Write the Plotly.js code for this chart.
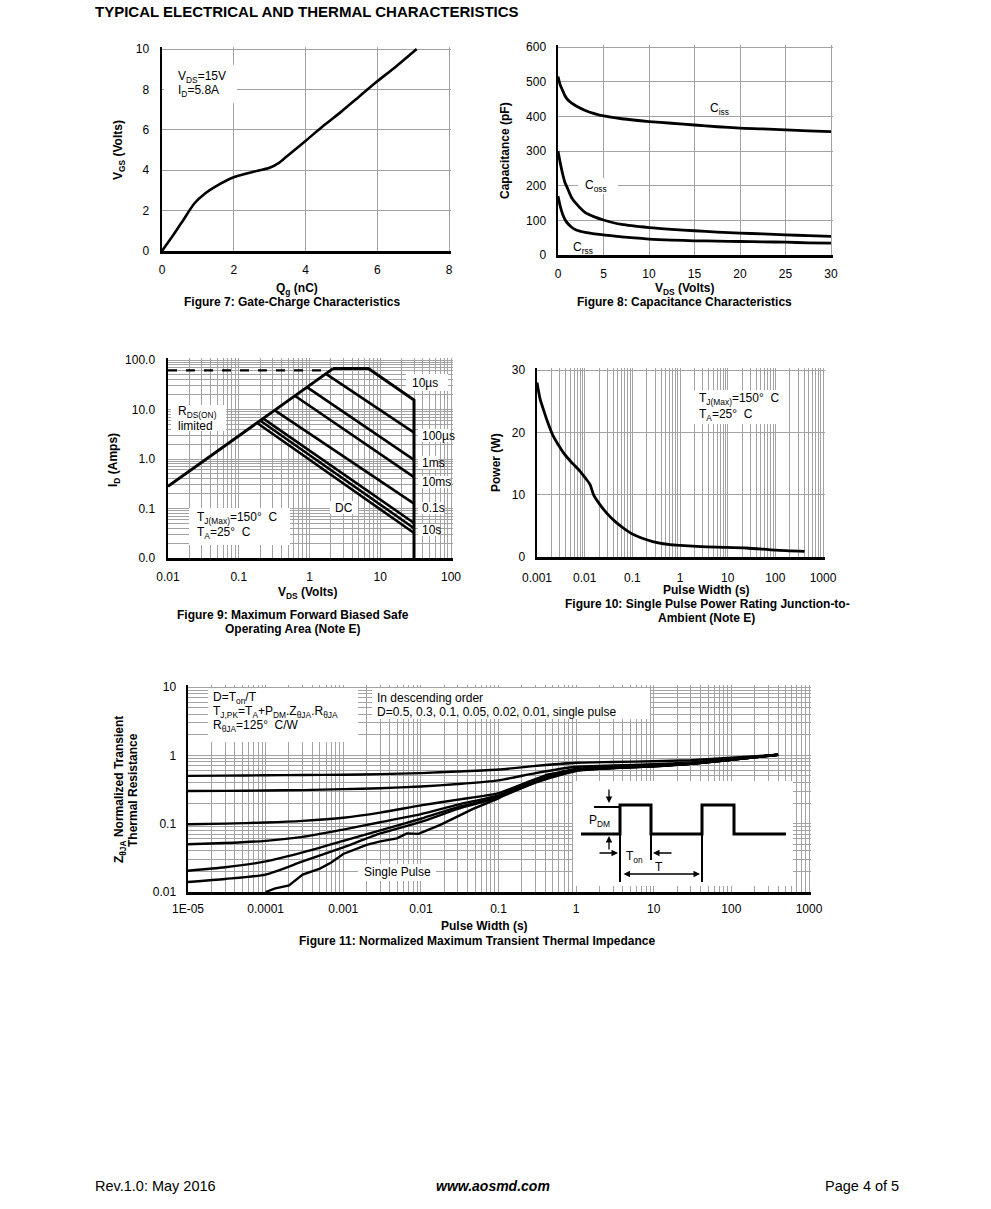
<!DOCTYPE html>
<html>
<head>
<meta charset="utf-8">
<script src="https://cdn.plot.ly/plotly-3.0.1.min.js"></script>
<style>html,body{margin:0;padding:0;background:#fff;}#chart{width:991px;height:1209px;}</style>
</head>
<body>
<div id="chart"></div>
<script>
// ---------- Figure 7: Gate charge ----------
const qg  = [0, 0.3, 0.6, 0.9, 1.2, 1.5, 2.0, 2.5, 3.0, 3.25, 3.5, 4.0, 4.5, 5.0, 5.5, 6.0, 6.5, 7.1];
const vgs = [0, 0.75, 1.55, 2.35, 2.85, 3.2, 3.65, 3.9, 4.12, 4.35, 4.72, 5.45, 6.2, 6.9, 7.65, 8.4, 9.1, 10];

// ---------- Figure 8: Capacitance ----------
const vds8 = [0, 0.25, 0.5, 0.75, 1, 1.5, 2, 3, 4, 5, 7, 10, 12.5, 15, 17.5, 20, 22.5, 25, 27.5, 30];
const ciss = [515, 490, 475, 460, 450, 438, 430, 417, 408, 401, 393, 385, 380, 375, 370, 366, 364, 361, 358, 356];
const coss = [300, 265, 235, 210, 195, 165, 148, 122, 110, 101, 88, 79, 74, 70, 66, 63, 61, 58, 56, 54];
const crss = [170, 140, 118, 103, 93, 80, 72, 65, 61, 58, 52, 46, 43, 41, 40, 39, 38, 37, 35, 34];

// ---------- Figure 9: SOA ----------
const rdsV = [0.01, 2.15];     const rdsI = [0.28, 67];
const pkV  = [0.01, 1.95];     const pkI  = [62, 62];
const v10us = [2.15, 6.8, 30, 30]; const i10us = [67, 67, 15.5, 0.01];
const v100us = [1.69, 30]; const i100us = [53, 3.4];
const v1ms   = [0.93, 30]; const i1ms   = [28, 0.96];
const v10ms  = [0.62, 30]; const i10ms  = [19, 0.43];
const v100ms = [0.32, 30]; const i100ms = [9.7, 0.125];
const v1s    = [0.22, 30]; const i1s    = [6.6, 0.051];
const v10s   = [0.20, 30]; const i10s   = [6.0, 0.040];
const vdc    = [0.18, 30]; const idc    = [5.4, 0.032];

// ---------- Figure 10: Single pulse power ----------
const tp10 = [0.001, 0.00115, 0.00137, 0.0017, 0.00222, 0.0028, 0.0036, 0.005, 0.0081, 0.0105, 0.013, 0.0153, 0.02, 0.029, 0.045, 0.065, 0.1, 0.2, 0.35, 0.62, 1, 2.2, 6, 24.7, 100, 410];
const pw10 = [28, 25.5, 23.6, 21.5, 19.3, 18.0, 16.7, 15.4, 13.7, 12.6, 11.6, 10.0, 8.6, 7.05, 5.6, 4.65, 3.7, 2.77, 2.25, 1.97, 1.85, 1.7, 1.58, 1.44, 1.1, 0.9];

// ---------- Figure 11: Transient thermal impedance ----------
const tz = [1e-5, 3e-5, 1e-4, 3e-4, 1e-3, 3e-3, 0.01, 0.03, 0.1, 0.3, 1, 3, 10, 30, 100, 400];
const zD05  = [0.50, 0.505, 0.51, 0.515, 0.52, 0.53, 0.55, 0.58, 0.62, 0.70, 0.78, 0.80, 0.82, 0.85, 0.92, 1.02];
const zD03  = [0.30, 0.302, 0.306, 0.31, 0.32, 0.33, 0.35, 0.38, 0.43, 0.55, 0.68, 0.71, 0.74, 0.79, 0.88, 1.02];
const zD01  = [0.098, 0.1, 0.104, 0.11, 0.122, 0.145, 0.185, 0.225, 0.28, 0.45, 0.63, 0.67, 0.71, 0.76, 0.87, 1.02];
const zD005 = [0.05, 0.052, 0.056, 0.064, 0.082, 0.105, 0.138, 0.19, 0.26, 0.42, 0.61, 0.66, 0.70, 0.75, 0.86, 1.02];
const zD002 = [0.0205, 0.023, 0.028, 0.038, 0.056, 0.08, 0.118, 0.175, 0.245, 0.41, 0.60, 0.65, 0.69, 0.75, 0.86, 1.02];
const zD001 = [0.014, 0.0155, 0.018, 0.028, 0.045, 0.072, 0.106, 0.165, 0.24, 0.40, 0.59, 0.65, 0.69, 0.75, 0.86, 1.02];
const spX = [1e-4, 1.3e-4, 2e-4, 3e-4, 5e-4, 7e-4, 1e-3, 1.5e-3, 2e-3, 3e-3, 4.9e-3, 6.6e-3, 9.3e-3, 0.0178, 0.047, 0.1, 0.155, 0.42, 1, 3, 10, 30, 100, 400];
const spY = [0.01, 0.0112, 0.0125, 0.018, 0.022, 0.027, 0.036, 0.043, 0.049, 0.055, 0.061, 0.072, 0.071, 0.096, 0.165, 0.235, 0.32, 0.52, 0.62, 0.65, 0.69, 0.75, 0.86, 1.02];

// ---------- Figure 11 inset (pulse diagram, inset units) ----------
const insetBoxX = [0, 220, 220, 0, 0];
const insetBoxY = [0, 0, 105, 105, 0];
const pulseX = [8, 47, 47, 78, 78, 129, 129, 161, 161, 213];
const pulseY = [52, 52, 81, 81, 52, 52, 81, 81, 52, 52];
const markX = [47, 47, null, 78, 78, null, 129, 129, null, 21, 47];
const markY = [52, 4, null, 52, 26, null, 52, 4, null, 79, 79];

// ---------- tick labels ----------
const soaXLabels = ['0.01', '0.1', '1', '10', '100'];
const soaYLabels = ['0.0', '0.1', '1.0', '10.0', '100.0'];
const pwrXLabels = ['0.001', '0.01', '0.1', '1', '10', '100', '1000'];
const zthXLabels = ['1E-05', '0.0001', '0.001', '0.01', '0.1', '1', '10', '100', '1000'];
const zthYLabels = ['0.01', '0.1', '1', '10'];

// ================= layout helpers =================
const W = 991, H = 1209;
const FONT = 'Liberation Sans, Arial, sans-serif';
const GRID = '#a3a3a3';
const X = p => p / W;
const Y = p => 1 - p / H;
const dx = (a, b) => [X(a), X(b)];
const dy = (a, b) => [Y(b), Y(a)];
// extend an axis by 2px past its last gridline so Plotly keeps that gridline
const ext = (lo, hi, px) => hi + (hi - lo) * 2 / px;

function logTicks(e0, e1, labels) {
  const vals = [], minor = [];
  for (let e = e0; e <= e1; e++) {
    vals.push(Math.pow(10, e));
    if (e < e1) for (let m = 2; m <= 9; m++) minor.push(m * Math.pow(10, e));
  }
  return {tickmode: 'array', tickvals: vals, ticktext: labels,
          minor: {tickmode: 'array', tickvals: minor, showgrid: true, gridcolor: GRID, gridwidth: 1, ticks: ''}};
}
function ax(extra) {
  return Object.assign({
    showline: true, linecolor: '#000', linewidth: 2.5,
    showgrid: true, gridcolor: GRID, gridwidth: 1,
    zeroline: false, ticks: '', fixedrange: true,
    tickfont: {family: FONT, size: 12, color: '#000'}
  }, extra);
}
const LW = {color: '#000', width: 2.6};
function tr(x, y, xa, ya, line) {
  return {x: x, y: y, xaxis: xa, yaxis: ya, type: 'scatter', mode: 'lines',
          line: line || LW, hoverinfo: 'skip', showlegend: false};
}
const SPL = w => ({color: '#000', width: w, shape: 'spline', smoothing: 0.6});
const anns = [], shapes = [];
function txt(x, y, text, o) {
  o = o || {};
  anns.push({xref: 'paper', yref: 'paper', x: X(x), y: Y(y), text: text, showarrow: false,
    xanchor: o.xa || 'center', yanchor: 'middle', textangle: o.angle || 0,
    font: {family: FONT, size: o.size || 12, color: '#000', weight: o.bold ? 'bold' : 'normal',
           style: o.italic ? 'italic' : 'normal'}});
}
function box(x0, y0, x1, y1) {
  shapes.push({type: 'rect', xref: 'paper', yref: 'paper', x0: X(x0), x1: X(x1), y0: Y(y1), y1: Y(y0),
    fillcolor: '#fff', line: {width: 0}, layer: 'above'});
}
function arrow(x, y, axv, ayv, both) {
  anns.push({xref: 'x6', yref: 'y6', axref: 'x6', ayref: 'y6', x: x, y: y, ax: axv, ay: ayv,
    text: '', showarrow: true, arrowhead: 2, arrowsize: 1, arrowwidth: 1.3, arrowcolor: '#000',
    standoff: 0, startstandoff: 0, arrowside: both ? 'end+start' : 'end', startarrowhead: 2});
}

// ================= traces =================
const data = [
  tr(qg, vgs, 'x', 'y', SPL(2.6)),
  tr(vds8, ciss, 'x2', 'y2', SPL(2.8)), tr(vds8, coss, 'x2', 'y2', SPL(2.8)), tr(vds8, crss, 'x2', 'y2', SPL(2.8)),
  tr(pkV, pkI, 'x3', 'y3', {color: '#000', width: 2.2, dash: 'dash'}),
  tr(rdsV, rdsI, 'x3', 'y3', {color: '#000', width: 3}),
  tr(v10us, i10us, 'x3', 'y3', {color: '#000', width: 3}),
  tr(v100us, i100us, 'x3', 'y3'), tr(v1ms, i1ms, 'x3', 'y3'), tr(v10ms, i10ms, 'x3', 'y3'),
  tr(v100ms, i100ms, 'x3', 'y3'), tr(v1s, i1s, 'x3', 'y3'), tr(v10s, i10s, 'x3', 'y3'), tr(vdc, idc, 'x3', 'y3'),
  tr(tp10, pw10, 'x4', 'y4', SPL(2.8)),
  tr(tz, zD05, 'x5', 'y5', SPL(2.4)),
  tr(tz, zD03, 'x5', 'y5', SPL(2.4)),
  tr(tz, zD01, 'x5', 'y5', SPL(2.4)),
  tr(tz, zD005, 'x5', 'y5', SPL(2.4)),
  tr(tz, zD002, 'x5', 'y5', SPL(2.4)),
  tr(tz, zD001, 'x5', 'y5', SPL(2.4)),
  tr(spX, spY, 'x5', 'y5', {color: '#000', width: 2.4}),
  {x: insetBoxX, y: insetBoxY, xaxis: 'x6', yaxis: 'y6', type: 'scatter', mode: 'lines', fill: 'toself',
   fillcolor: '#fff', line: {width: 0, color: '#fff'}, hoverinfo: 'skip', showlegend: false},
  tr(pulseX, pulseY, 'x6', 'y6', {color: '#000', width: 3}),
  tr(markX, markY, 'x6', 'y6', {color: '#000', width: 2})
];

// ================= text =================
txt(93, 12, 'TYPICAL ELECTRICAL AND THERMAL CHARACTERISTICS', {xa: 'left', bold: true, size: 15});
// Fig 7
box(164, 65, 237, 103);
txt(176, 77, 'V<sub>DS</sub>=15V', {xa: 'left'});
txt(176, 91, 'I<sub>D</sub>=5.8A', {xa: 'left'});
txt(297, 289, 'Q<sub>g</sub> (nC)', {bold: true});
txt(292, 302, 'Figure 7: Gate-Charge Characteristics', {bold: true});
txt(119, 150, 'V<sub>GS</sub> (Volts)', {bold: true, angle: -90});
// Fig 8
txt(708, 109, 'C<sub>iss</sub>', {xa: 'left'});
box(578, 178, 618, 194);
txt(583, 186, 'C<sub>oss</sub>', {xa: 'left'});
txt(571, 248, 'C<sub>rss</sub>', {xa: 'left'});
txt(684, 289, 'V<sub>DS</sub> (Volts)', {bold: true});
txt(684, 302, 'Figure 8: Capacitance Characteristics', {bold: true});
txt(505, 151, 'Capacitance (pF)', {bold: true, angle: -90});
// Fig 9
box(406, 374, 448, 391); txt(410, 383, '10µs', {xa: 'left'});
box(171, 405, 226, 431);
txt(176, 412, 'R<sub>DS(ON)</sub>', {xa: 'left'});
txt(176, 426, 'limited', {xa: 'left'});
box(418, 429, 451, 442); txt(420, 436, '100µs', {xa: 'left'});
box(418, 456, 438, 469); txt(420, 463, '1ms', {xa: 'left'});
box(418, 476, 450, 488); txt(420, 482, '10ms', {xa: 'left'});
box(418, 502, 444, 514); txt(420, 508, '0.1s', {xa: 'left'});
box(418, 524, 438, 536); txt(420, 530, '10s', {xa: 'left'});
box(330, 501, 358, 514); txt(344, 508, 'DC');
box(189, 508, 290, 545);
txt(195, 518, 'T<sub>J(Max)</sub>=150°  C', {xa: 'left'});
txt(195, 533, 'T<sub>A</sub>=25°  C', {xa: 'left'});
txt(307, 593, 'V<sub>DS</sub> (Volts)', {bold: true});
txt(293, 615, 'Figure 9: Maximum Forward Biased Safe', {bold: true});
txt(293, 629, 'Operating Area (Note E)', {bold: true});
txt(114, 460, 'I<sub>D</sub> (Amps)', {bold: true, angle: -90});
// Fig 10
box(690, 390, 787, 424);
txt(697, 399, 'T<sub>J(Max)</sub>=150°  C', {xa: 'left'});
txt(697, 415, 'T<sub>A</sub>=25°  C', {xa: 'left'});
txt(706, 590, 'Pulse Width (s)', {bold: true});
txt(707, 604, 'Figure 10: Single Pulse Power Rating Junction-to-', {bold: true});
txt(706, 618, 'Ambient (Note E)', {bold: true});
txt(496, 463, 'Power (W)', {bold: true, angle: -90});
// Fig 11
box(208, 688, 358, 742);
txt(211, 698, 'D=T<sub>on</sub>/T', {xa: 'left'});
txt(211, 712, 'T<sub>J,PK</sub>=T<sub>A</sub>+P<sub>DM</sub>.Z<sub>θJA</sub>.R<sub>θJA</sub>', {xa: 'left'});
txt(211, 726, 'R<sub>θJA</sub>=125°  C/W', {xa: 'left'});
box(372, 688, 650, 719);
txt(375, 698, 'In descending order', {xa: 'left'});
txt(375, 712, 'D=0.5, 0.3, 0.1, 0.05, 0.02, 0.01, single pulse', {xa: 'left'});
box(358, 864, 436, 881);
txt(362, 872, 'Single Pulse', {xa: 'left'});
txt(484, 926, 'Pulse Width (s)', {bold: true});
txt(477, 941, 'Figure 11: Normalized Maximum Transient Thermal Impedance', {bold: true});
txt(120, 790, 'Z<sub>θJA</sub> Normalized Transient', {bold: true, angle: -90});
txt(133, 790, 'Thermal Resistance', {bold: true, angle: -90});
// inset labels
anns.push({xref: 'x6', yref: 'y6', x: 26, y: 65, text: 'P<sub>DM</sub>', showarrow: false,
  font: {family: FONT, size: 12, color: '#000'}});
anns.push({xref: 'x6', yref: 'y6', x: 61, y: 29, text: 'T<sub>on</sub>', showarrow: false,
  font: {family: FONT, size: 12, color: '#000'}});
anns.push({xref: 'x6', yref: 'y6', x: 86, y: 19, text: 'T', showarrow: false,
  font: {family: FONT, size: 12, color: '#000'}});
arrow(36, 83, 36, 98);
arrow(36, 50, 36, 35);
arrow(45, 33, 25, 33);
arrow(80, 33, 100, 33);
arrow(127, 12, 49, 12, true);
// footer
txt(93, 1186, 'Rev.1.0: May 2016', {xa: 'left', size: 14.5});
txt(493, 1186, 'www.aosmd.com', {bold: true, italic: true, size: 14});
txt(901, 1186, 'Page 4 of 5', {xa: 'right', size: 14.5});

// ================= layout =================
const layout = {
  width: W, height: H, margin: {l: 0, r: 0, t: 0, b: 0, pad: 0},
  paper_bgcolor: '#fff', plot_bgcolor: '#fff', showlegend: false,
  font: {family: FONT, size: 12, color: '#000'},
  xaxis:  ax({domain: dx(162, 451), anchor: 'y', range: [0, ext(0, 8, 287)], dtick: 2, tick0: 0, ticklabelstandoff: 6}),
  yaxis:  ax({domain: dy(47, 251), anchor: 'x', range: [0, ext(0, 10, 202)], dtick: 2, tick0: 0, ticklabelstandoff: 8}),
  xaxis2: ax({domain: dx(558, 833), anchor: 'y2', range: [0, ext(0, 30, 273)], dtick: 5, tick0: 0, ticklabelstandoff: 6}),
  yaxis2: ax({domain: dy(45, 255), anchor: 'x2', range: [0, ext(0, 600, 208)], dtick: 100, tick0: 0, ticklabelstandoff: 7}),
  xaxis3: ax(Object.assign({domain: dx(168, 453), anchor: 'y3', type: 'log', range: [-2, ext(-2, 2, 283)], ticklabelstandoff: 6}, logTicks(-2, 2, soaXLabels))),
  yaxis3: ax(Object.assign({domain: dy(358, 558), anchor: 'x3', type: 'log', range: [-2, ext(-2, 2, 198)], ticklabelstandoff: 8}, logTicks(-2, 2, soaYLabels))),
  xaxis4: ax(Object.assign({domain: dx(537, 825), anchor: 'y4', type: 'log', range: [-3, ext(-3, 3, 286)], ticklabelstandoff: 8}, logTicks(-3, 3, pwrXLabels))),
  yaxis4: ax({domain: dy(368, 557), anchor: 'x4', range: [0, ext(0, 30, 187)], dtick: 10, tick0: 0, ticklabelstandoff: 7}),
  xaxis5: ax(Object.assign({domain: dx(188, 811), anchor: 'y5', type: 'log', range: [-5, ext(-5, 3, 621)], ticklabelstandoff: 4}, logTicks(-5, 3, zthXLabels))),
  yaxis5: ax(Object.assign({domain: dy(685, 892), anchor: 'x5', type: 'log', range: [-2, ext(-2, 1, 205)], ticklabelstandoff: 7}, logTicks(-2, 1, zthYLabels))),
  xaxis6: {domain: dx(573, 793), anchor: 'y6', range: [0, 220], visible: false, fixedrange: true},
  yaxis6: {domain: dy(781, 886), anchor: 'x6', range: [0, 105], visible: false, fixedrange: true},
  shapes: shapes,
  annotations: anns
};

Plotly.newPlot('chart', data, layout, {displayModeBar: false, staticPlot: true});
</script>
</body>
</html>
